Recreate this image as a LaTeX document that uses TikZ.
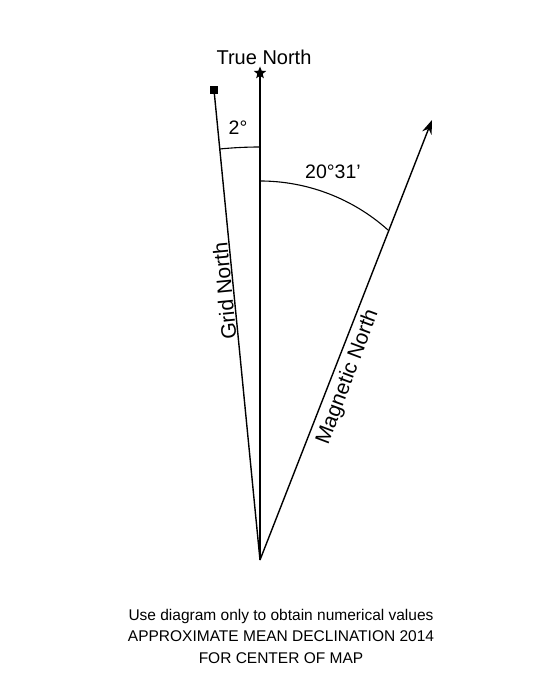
\documentclass[tikz,border=0pt]{standalone}
\usepackage{fontspec}
\setmainfont{Liberation Sans}
\usetikzlibrary{shapes.geometric,arrows.meta}
\begin{document}
\begin{tikzpicture}[x=1pt,y=1pt,
  lbl/.style={font=\fontsize{19.5}{22}\selectfont, inner sep=0pt},
  rlbl/.style={font=\fontsize{21}{26}\selectfont, inner sep=0pt},
  ln/.style={line width=1.4pt},
  thin arc/.style={line width=1.1pt}]
\useasboundingbox (0,0) rectangle (549,696);
\coordinate (O) at (260,136);
\node[star, star points=5, star point ratio=2.3, fill, inner sep=0pt, minimum size=13pt] (T) at (260,623) {};
\node[fill, inner sep=0pt, minimum size=8pt] (G) at (214,606) {};
\coordinate (M) at (432,576);
\draw[ln] (O) -- (T.center);
\draw[ln] (O) -- (G.center);
\draw[ln,-{Stealth[length=14pt,width=10pt]}] (O) -- (M);
\draw[thin arc] (260,549) arc[start angle=90,end angle=95.59,radius=413];
\draw[thin arc] (260,515) arc[start angle=90,end angle=48.1,radius=191.7];
\node[lbl, font=\fontsize{20}{22}\selectfont] (tn) at (264,639) {True North};
\node[lbl] (a2) at (238,568) {2°};
\node[lbl] (a20) at (333,524) {20°31’};
\node[rlbl, rotate=95.6] (gn) at (224.5,405) {Grid North};
\node[rlbl, rotate=69.5] (mn) at (348,319) {Magnetic North};
\node[lbl, align=center, font=\fontsize{15.5}{21.5}\selectfont] (cap) at (281,60) {Use diagram only to obtain numerical values\\APPROXIMATE MEAN DECLINATION 2014\\FOR CENTER OF MAP};
\end{tikzpicture}
\end{document}
